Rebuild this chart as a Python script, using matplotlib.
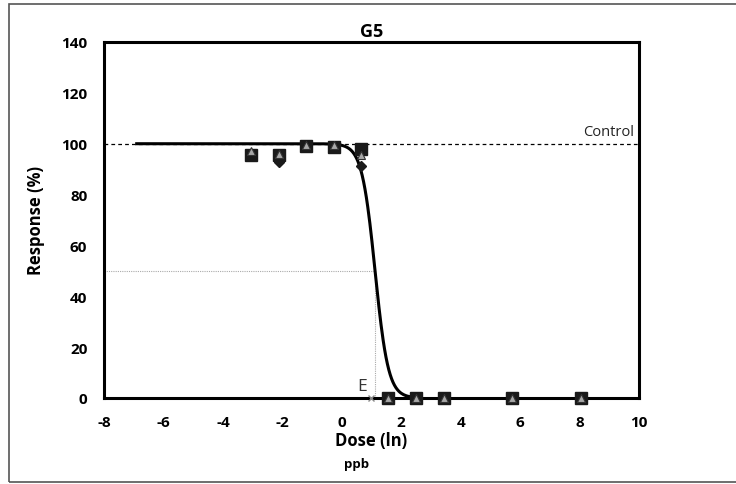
import numpy as np
import matplotlib
matplotlib.use("Agg")
import matplotlib.pyplot as plt
from matplotlib.patches import Rectangle

plt.rcParams['font.family'] = ['Open Sans', 'DejaVu Sans']
plt.rcParams['axes.unicode_minus'] = False

# Observed responses (%) at each log dose
dose_sq = [-3.05, -2.1, -1.2, -0.26, 0.64, 1.55, 2.5, 3.44, 5.73, 8.06]
resp_sq = [95.5, 95.5, 99.2, 98.8, 98.0, 0, 0, 0, 0, 0]
dose_tri = [-3.05, -2.1, -1.2, -0.26, 0.64, 1.55, 2.5, 3.44, 5.73, 8.06]
resp_tri = [97.0, 96.0, 99.5, 99.5, 95.5, 0, 0, 0, 0, 0]
dose_dia = [-2.1, 0.64]
resp_dia = [93.0, 91.2]

# Fitted log-logistic model
ec50 = 1.12
hill = 4.5
curve_start, curve_end = -6.9, 2.5
control_level = 100

x_ticks = [-8, -6, -4, -2, 0, 2, 4, 6, 8, 10]
y_ticks = [0, 20, 40, 60, 80, 100, 120, 140]

fig = plt.figure(figsize=(7.36, 4.85), dpi=100)
ax = fig.add_axes([104/736, 1-399/485, 535/736, 356/485])

# outer frame around the whole chart
fig.patches.append(Rectangle((9/736, 2/485), 1.05, 478/485, transform=fig.transFigure,
                             fill=False, edgecolor='#555555', lw=1.2))

# control reference line
ax.axhline(control_level, color='black', lw=0.9, ls=(0, (3, 2.5)), zorder=1)
ax.text(9.85, control_level + 2, 'Control', ha='right', va='bottom', fontsize=10.5, color='#222222')

# EC50 guides
ax.plot([-8, ec50], [50, 50], color='#aaaaaa', lw=0.8, ls=(0, (1, 1)), zorder=1)
ax.plot([ec50, ec50], [0, 50], color='#aaaaaa', lw=0.8, ls=(0, (1, 1)), zorder=1)
ax.plot([0.98], [0], marker='x', ms=4, color='#888888', mew=1.0, zorder=3, clip_on=False)
ax.text(0.85, 1.5, 'E', ha='right', va='bottom', fontsize=12.5, color='#333333')

# fitted curve
xc = np.linspace(curve_start, curve_end, 400)
yc = 100 / (1 + np.exp(hill * (xc - ec50)))
ax.plot(xc, yc, color='black', lw=2.2, zorder=2)

ax.plot(dose_sq, resp_sq, ls='none', marker='s', ms=8.5, color='#1a1a1a', zorder=4, clip_on=False)
ax.plot(dose_dia, resp_dia, ls='none', marker='D', ms=5, color='#1a1a1a', zorder=4)
ax.plot(dose_tri, resp_tri, ls='none', marker='^', ms=6, mfc='#a8a8a8', mec='#333333',
        mew=0.8, zorder=5, clip_on=False)

ax.set_xlim(-8, 10)
ax.set_ylim(0, 140)
ax.set_xticks(x_ticks)
ax.set_yticks(y_ticks)
ax.tick_params(length=0, labelsize=11, pad=12)
for lbl in ax.get_xticklabels() + ax.get_yticklabels():
    lbl.set_fontweight('bold')
for s in ax.spines.values():
    s.set_linewidth(2.2)
    s.set_color('black')

ax.set_title('G5', fontsize=13, fontweight='bold', pad=4)
ax.set_ylabel('Response (%)', fontsize=12, fontweight='bold', labelpad=12)
ax.set_xlabel('Dose (ln)', fontsize=12, fontweight='bold', labelpad=2)
fig.text(357/736, 1-465/485, 'ppb', ha='center', va='center', fontsize=9.5, fontweight='bold')

fig.savefig('out.png', dpi=100)
